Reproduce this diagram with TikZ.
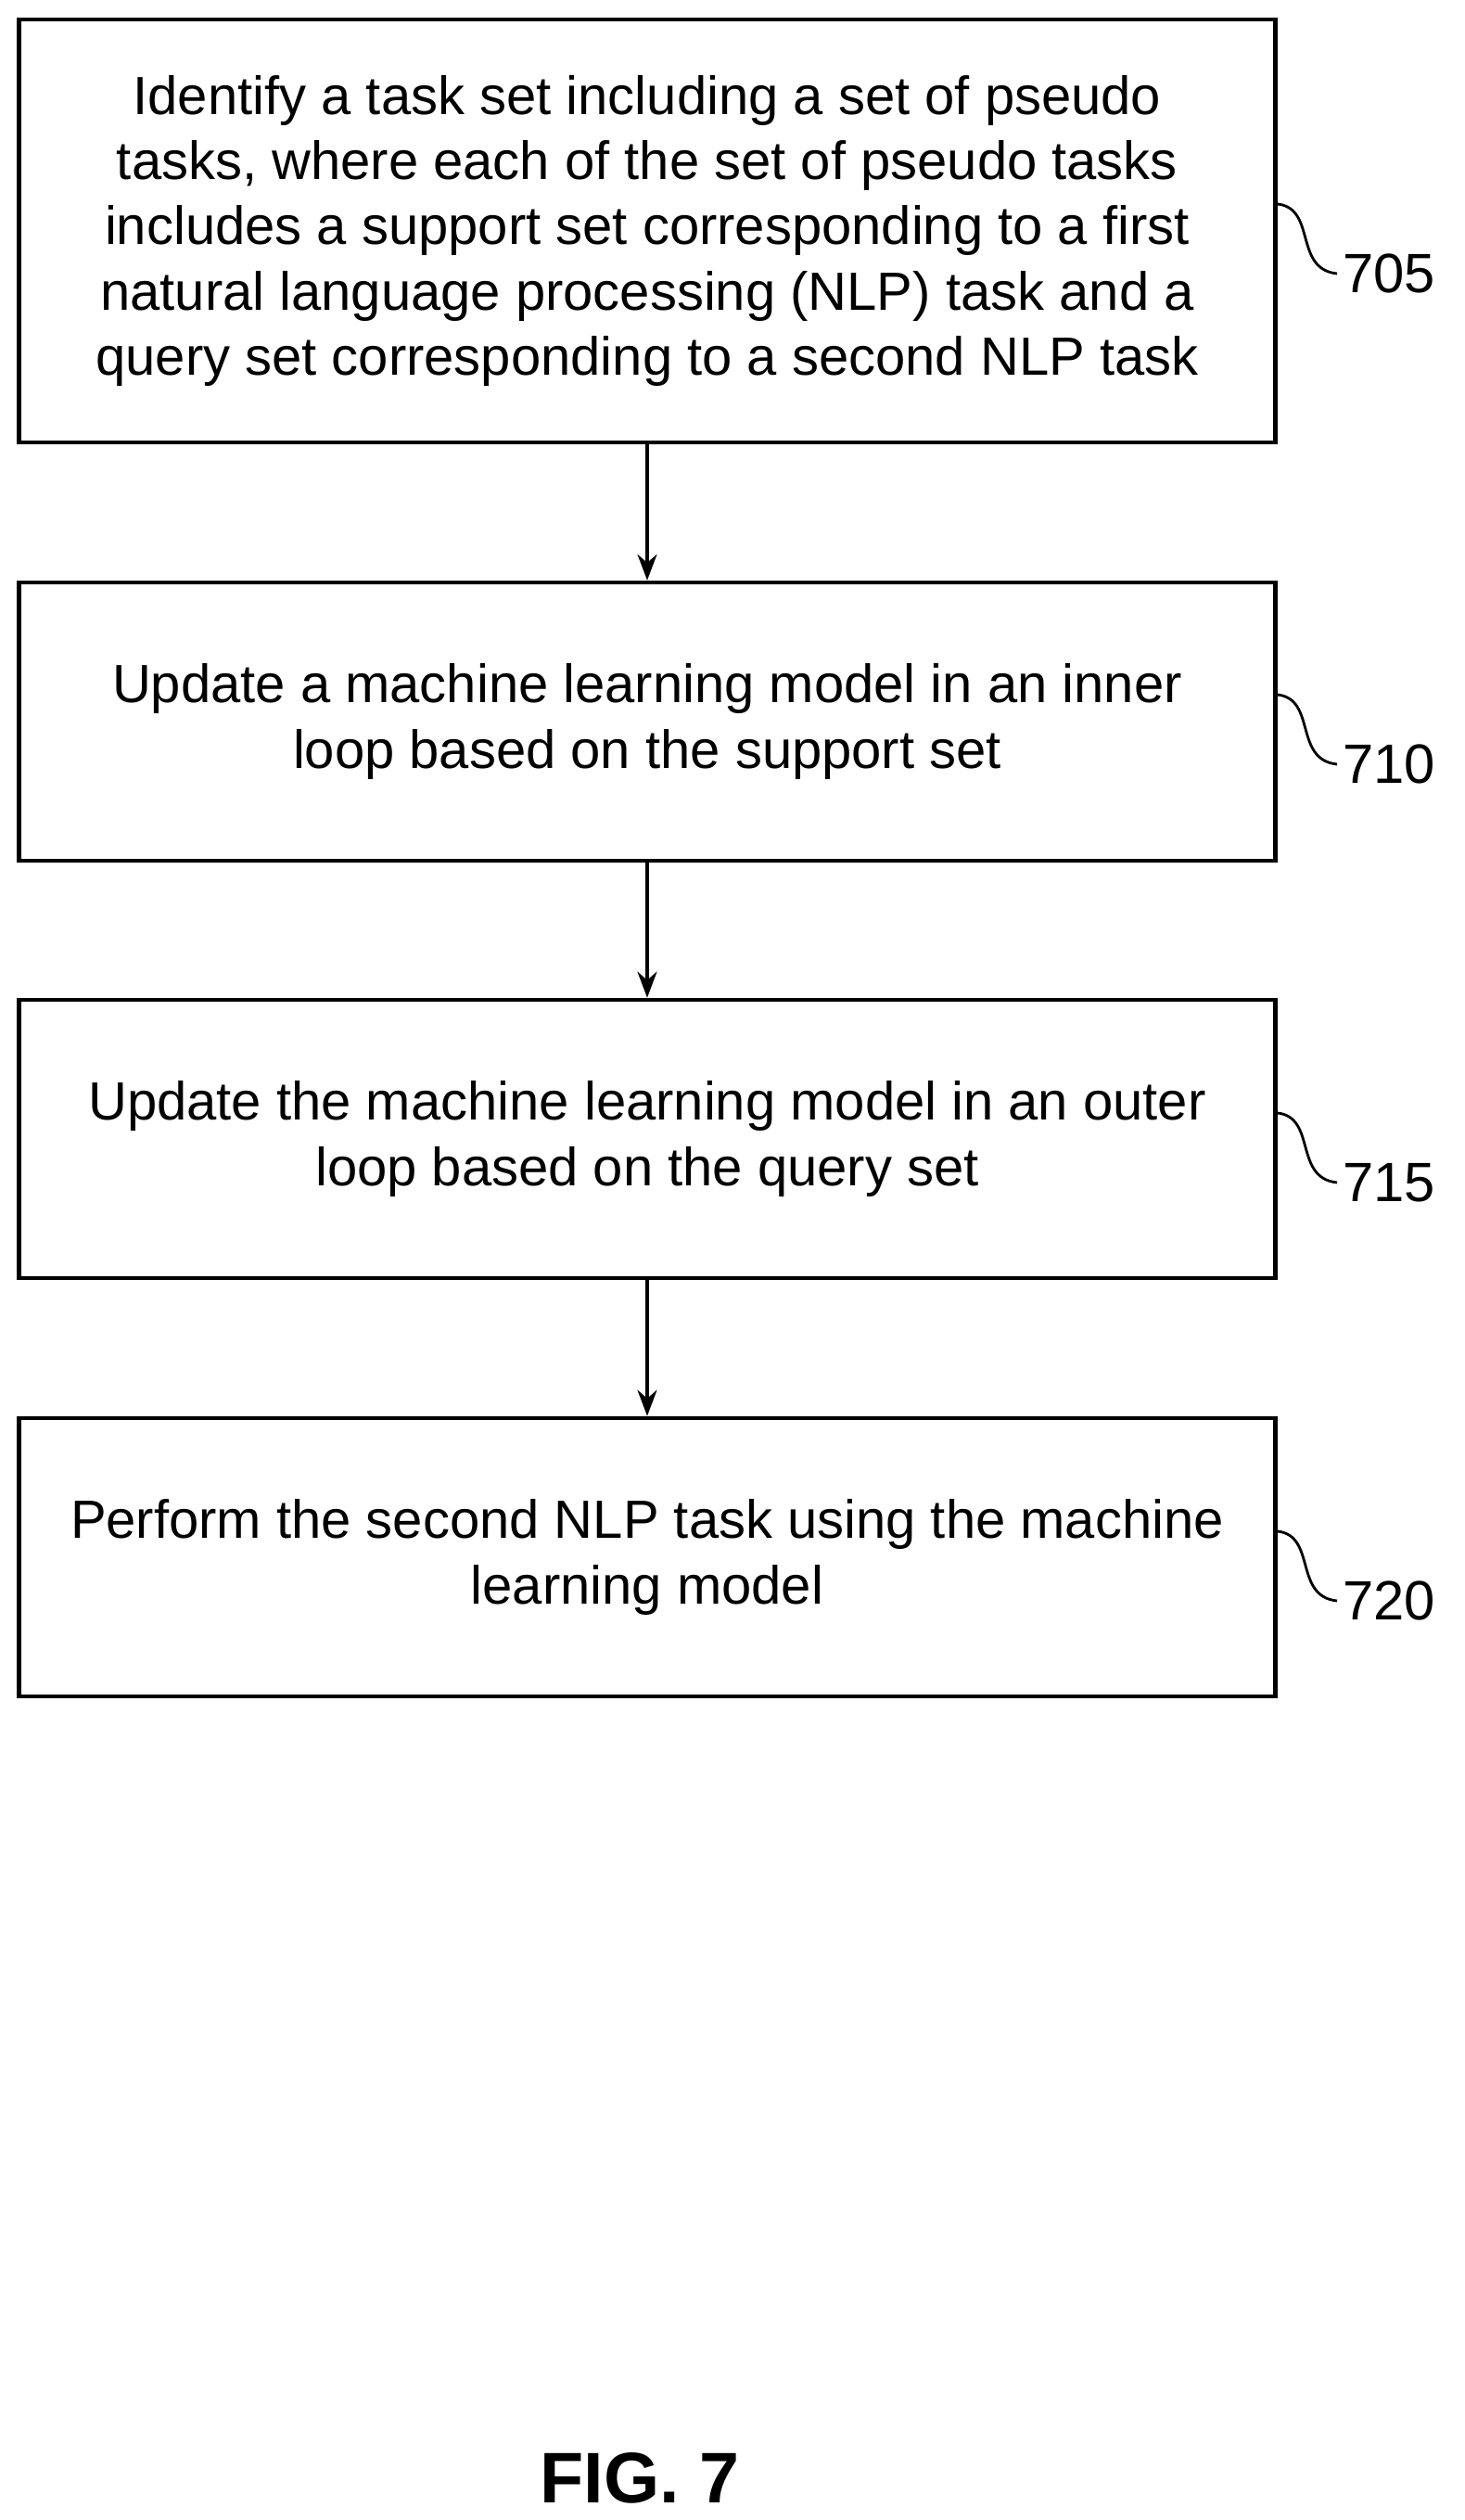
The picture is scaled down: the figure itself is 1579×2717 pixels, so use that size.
\documentclass[tikz,border=0pt]{standalone}
\usepackage{fontspec}
\setmainfont{Liberation Sans}
\usetikzlibrary{arrows.meta, positioning}

\tikzset{
    stepbox/.style={draw, line width=2.6pt, minimum width=1355*0.02cm, align=center,
        font=\fontsize{33}{40}\selectfont},
    flow/.style={-{Stealth[length=16pt,width=12pt]}, line width=1.8pt},
    tag/.style={font=\fontsize{34}{40}\selectfont, anchor=west}
}

\begin{document}
\begin{tikzpicture}[x=0.02cm, y=-0.02cm]
            \useasboundingbox (0,0) rectangle (1579,2717);
            \node[stepbox, minimum height=456*0.02cm] (s705) at (698,249) {Identify a task set including a set of pseudo\\tasks, where each of the set of pseudo tasks\\includes a support set corresponding to a first\\natural language processing (NLP) task and a\\query set corresponding to a second NLP task};
            \node[stepbox, minimum height=300*0.02cm] (s710) at (698,778) {Update a machine learning model in an inner\\loop based on the support set};
            \node[stepbox, minimum height=300*0.02cm] (s715) at (698,1228) {Update the machine learning model in an outer\\loop based on the query set};
            \node[stepbox, minimum height=300*0.02cm] (s720) at (698,1679) {Perform the second NLP task using the machine\\learning model};
            \draw[flow] (s705) -- (s710);
            \draw[flow] (s710) -- (s715);
            \draw[flow] (s715) -- (s720);
            % reference numerals
            \foreach \name/\y in {705/295, 710/824, 715/1275, 720/1726} {
                \node[tag] (l\name) at (1442,\y) {\name};
                \draw[line width=1.6pt] (1378,\y-75) .. controls (1420,\y-70) and (1395,\y-5) .. (l\name.west);
            }
            \node[font=\bfseries\fontsize{44}{50}\selectfont] (fig) at (690,2672) {FIG. 7};
        \end{tikzpicture}
\end{document}
